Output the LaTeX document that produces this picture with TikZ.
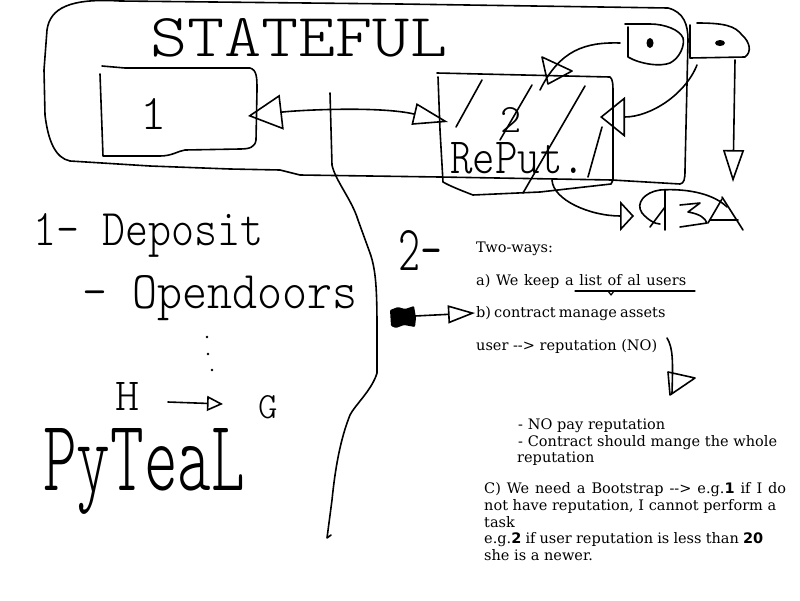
\documentclass[tikz,border=0pt]{standalone}
\usepackage{fontspec}
\usetikzlibrary{arrows.meta}
\newfontfamily\typedfont{DejaVu Serif}
\newfontfamily\digitfont{DejaVu Sans}
\newfontfamily\handfont{lmmonolt10-regular.otf}
\newcommand{\scrawl}[3]{\resizebox{#1}{#2}{\handfont #3}}
\newcommand{\dig}[1]{{\digitfont\bfseries #1}}
\tikzset{
  pen/.style={line width=1.6pt, line cap=round, line join=round},
  hand/.style={inner sep=0pt, anchor=base west},
  typed/.style={inner sep=0pt, anchor=base west, font=\typedfont\fontsize{14.5pt}{17pt}\selectfont},
}
\begin{document}
\begin{tikzpicture}[x=1pt,y=-1pt]
\useasboundingbox (0,0) rectangle (800,600);
\fill[white] (0,0) rectangle (800,600);

% outer STATEFUL blob
\draw[pen] (688,40) .. controls (688,25) and (684,12) .. (668,8) -- (400,4) -- (120,1)
  .. controls (70,-2) and (50,8) .. (47,30) -- (44,70) -- (45,115)
  .. controls (48,140) and (55,158) .. (70,161) -- (150,166) -- (230,169) -- (280,170)
  -- (300,175) -- (440,177) -- (612,180) -- (680,184) .. controls (684,183) and (685,180) .. (685,170)
  -- (688,40);
\node[hand] (stateful) at (150,56) {\scrawl{297pt}{38pt}{STATEFUL}};

% box 1
\draw[pen] (102,66) -- (125,68) -- (250,68) .. controls (257,70) and (257,78) .. (257,90)
  -- (256,140) .. controls (255,147) and (250,149) .. (240,149) -- (185,150)
  .. controls (178,151) and (172,156) .. (160,156) -- (103,156) -- (100,74);
\node[hand] (one) at (140,129) {\scrawl{!}{31pt}{1}};

% box 2
\draw[pen] (437,73) -- (610,77) .. controls (613,79) and (613,85) .. (613,95) -- (613,180)
  -- (611,184) -- (540,192) -- (473,195) .. controls (460,190) and (450,186) .. (443,182)
  -- (440,130) -- (438,77);
\draw[pen] (482,80) -- (456,127);
\draw[pen] (532,85) -- (500,140);
\draw[pen] (585,86) -- (523,193);
\draw[pen] (602,127) -- (588,177);
\node[hand] (two) at (500,132) {\scrawl{!}{25pt}{2}};
\node[hand] (reput) at (450,173) {\scrawl{135pt}{31pt}{RePut.}};

% double arrow between the boxes
\coordinate (boxone) at (248,116);
\coordinate (boxtwo) at (448,122);
\draw[pen, {Triangle[open,length=34pt,width=35pt]}-{Triangle[open,length=35pt,width=22pt]}]
  (boxone) .. controls (300,110) and (380,106) .. (boxtwo);

% divider
\draw[pen] (330,93) -- (332,165) .. controls (335,180) and (352,200) .. (358,220) -- (370,253)
  .. controls (376,270) and (377,290) .. (377,330) -- (377,373)
  .. controls (372,390) and (355,405) .. (350,415)
  .. controls (340,440) and (335,470) .. (332,500) -- (327,538) -- (331,535);

% DB blobs
\draw[pen] (628,27) -- (628,57) .. controls (640,64) and (660,67) .. (670,63)
  .. controls (680,58) and (685,45) .. (683,38) .. controls (680,30) and (665,24) .. (650,24) -- (625,24);
\fill (650,43) ellipse (3.5 and 5);
\draw[pen] (690,25) -- (690,58) -- (745,57) .. controls (752,52) and (750,42) .. (742,35)
  .. controls (735,26) and (725,23) .. (697,23);
\fill (720,43) ellipse (5 and 3);

% arrows out of DB
\coordinate (dbleft) at (620,43);
\coordinate (twotop) at (540,90);
\draw[pen] (dbleft) .. controls (585,42) and (560,50) .. (twotop);
\draw[pen] (542,57) -- (572,71) -- (548,84) -- cycle;
\coordinate (dbright) at (697,65);
\coordinate (twoeast) at (600,117);
\draw[pen, -{Triangle[open,length=25pt,width=40pt]}] (dbright) .. controls (685,95) and (650,117) .. (twoeast);
\coordinate (dbdown) at (735,60);
\coordinate (datatop) at (733,182);
\draw[pen, -{Triangle[open,length=32pt,width=21pt]}] (dbdown) -- (datatop);

% box 2 to the scribble
\coordinate (twosouth) at (552,180);
\coordinate (data) at (634,216);
\draw[pen, -{Triangle[open,length=14pt,width=30pt]}] (twosouth) .. controls (553,200) and (590,216) .. (data);
\draw[pen] (727,207) .. controls (715,195) and (690,188) .. (660,190)
  .. controls (645,192) and (635,203) .. (642,213) .. controls (648,220) and (655,224) .. (660,224);
\draw[pen] (665,190) -- (665,230);
\draw[pen] (650,227) -- (665,207);
\draw[pen] (680,205) -- (700,203) -- (688,212) .. controls (700,214) and (705,218) .. (707,223) -- (680,227);
\draw[pen] (722,197) -- (743,230);
\draw[pen] (722,199) -- (708,223);
\draw[pen] (710,220) -- (738,220);

% left column
\node[hand] (deposit) at (33,245) {\scrawl{230pt}{32pt}{1- Deposit}};
\node[hand] (opendoors) at (82,308) {\scrawl{275pt}{33pt}{- Opendoors}};
\foreach \x/\y in {207/337, 208/354, 212/370}
  \fill (\x,\y) circle (1.3);
\node[hand] (hletter) at (115,410) {\scrawl{!}{28pt}{H}};
\node[hand] (gletter) at (258,418) {\scrawl{!}{23pt}{G}};
\coordinate (harrow) at (168,402);
\coordinate (garrow) at (223,404);
\draw[pen, -{Triangle[open,length=16pt,width=15pt]}] (harrow) -- (garrow);
\node[hand] (pyteal) at (43,490) {\scrawl{202pt}{62pt}{PyTeaL}};

% right column
\node[hand] (twodash) at (398,270) {\scrawl{44pt}{40pt}{2-}};
\node[typed] (twoways) at (476,252) {Two-ways:};
\node[typed] (waya) at (476,285) {\makebox[210pt][s]{a) We keep a list of al users}};
\draw[pen, line width=1.2pt] (575,291) -- (695,291);
\draw[pen, line width=1.2pt] (608,291) -- (611,295) -- (614,291);
\fill[rounded corners=1pt] (390,310) -- (398,307) -- (405,309) -- (414,306) -- (416,318)
  -- (415,327) -- (404,325) -- (396,328) -- (391,326) -- cycle;
\coordinate (blob) at (415,316);
\coordinate (wayb) at (475,313);
\draw[pen, -{Triangle[open,length=27pt,width=18pt]}] (blob) -- (wayb);
\node[typed] (waybtext) at (476,317) {\makebox[184pt][s]{b) contract manage assets}};
\node[typed] (userrep) at (476,350) {\makebox[181pt][s]{user -\kern0pt-> reputation (NO)}};
\coordinate (notop) at (667,338);
\coordinate (nobottom) at (672,393);
\draw[pen] (notop) .. controls (673,348) and (673,360) .. (nobottom);
\draw[pen] (668,372) -- (695,378) -- (670,395) -- cycle;
\node[typed] (nopay) at (518,429) {\makebox[147pt][s]{- NO pay reputation}};
\node[typed] (contract) at (518,446) {\makebox[259pt][s]{- Contract should mange the whole}};
\node[typed] (contractend) at (517,462) {reputation};
\node[typed] (bootone) at (484,493) {\makebox[302pt][s]{C) We need a Bootstrap -\kern0pt-> e.g.\dig{1} if I do}};
\node[typed] (boottwo) at (484,510) {\makebox[292pt][s]{not have reputation, I cannot perform a}};
\node[typed] (bootthree) at (484,527) {task};
\node[typed] (bootfour) at (484,543) {\makebox[279pt][s]{e.g.\dig{2} if user reputation is less than \dig{20}}};
\node[typed] (bootfive) at (484,560) {she is a newer.};
\end{tikzpicture}
\end{document}
